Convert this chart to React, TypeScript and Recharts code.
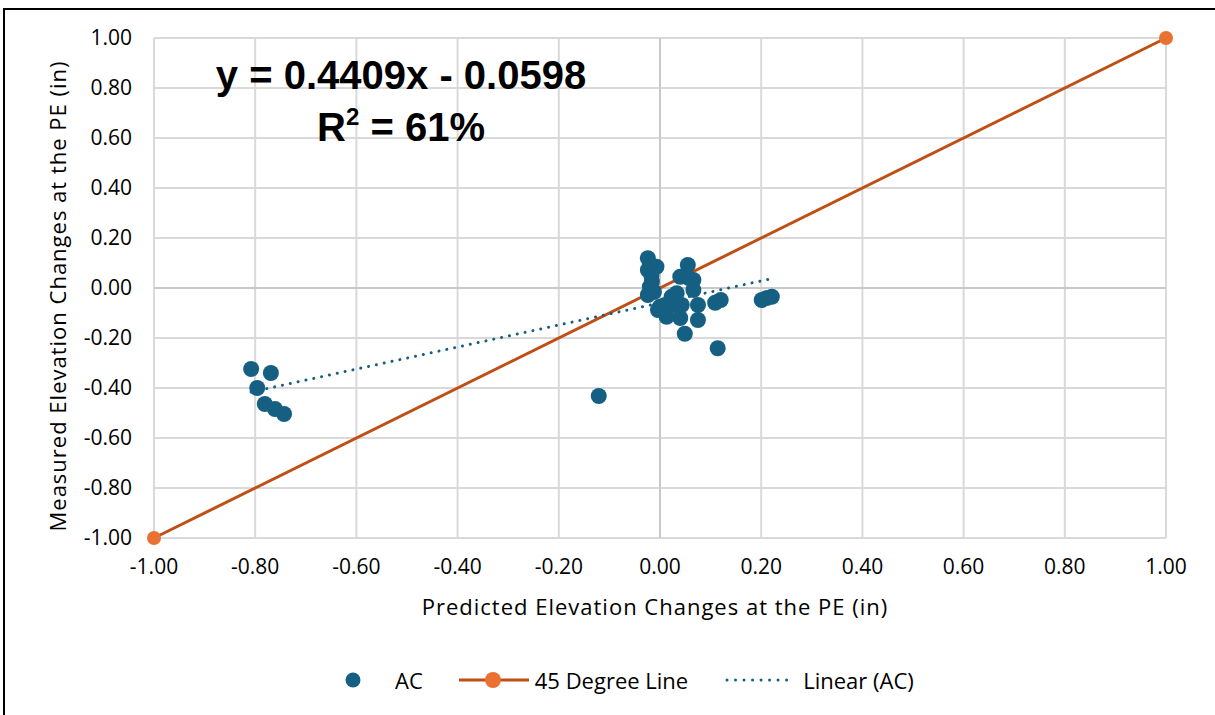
import React from 'react';
import {
  ScatterChart,
  Scatter,
  XAxis,
  YAxis,
  CartesianGrid,
  ReferenceLine,
} from 'recharts';

// AC measurements: predicted vs measured elevation change at the PE (in)
const acPredicted = [
  -0.808, -0.769, -0.796, -0.781, -0.761, -0.743, -0.121,
  -0.024, -0.024, -0.007, -0.017, -0.016, -0.020, -0.024, -0.012,
  0.055, 0.040, 0.057, 0.066, 0.066, 0.033, 0.023, 0.010, 0.026, 0.043,
  0.075, 0.000, 0.013, -0.004, 0.040, 0.075, 0.049, 0.109, 0.120, 0.114,
  0.201, 0.211, 0.221,
];
const acMeasured = [
  -0.324, -0.340, -0.400, -0.464, -0.484, -0.504, -0.432,
  0.119, 0.072, 0.085, 0.050, 0.025, 0.005, -0.028, -0.016,
  0.092, 0.045, 0.040, 0.032, -0.008, -0.021, -0.035, -0.068, -0.068, -0.068,
  -0.068, -0.075, -0.115, -0.088, -0.120, -0.128, -0.183, -0.059, -0.048, -0.241,
  -0.048, -0.040, -0.035,
];

// 45 degree reference line end points
const lineX = [-1, 1];
const lineY = [-1, 1];

// Linear (AC) trendline as reported by the chart
const trendSlope = 0.4409;
const trendIntercept = -0.0598;
const trendR2 = '61%';

const axisTicks = [-1, -0.8, -0.6, -0.4, -0.2, 0, 0.2, 0.4, 0.6, 0.8, 1];

const acData = acPredicted.map((x, i) => ({ x, y: acMeasured[i] }));
const lineData = lineX.map((x, i) => ({ x, y: lineY[i] }));
const trendEnds = [Math.min(...acPredicted), Math.max(...acPredicted)];
const trendData = trendEnds.map((x) => ({ x, y: trendSlope * x + trendIntercept }));

const COLORS = {
  ac: '#156082',
  line: '#C04F15',
  lineMarker: '#E97132',
  grid: '#D9D9D9',
  text: '#000000',
};

const FONT = '"Open Sans", "Liberation Sans", sans-serif';

const fmt = (v: number) => v.toFixed(2);

export default function App() {
  return (
    <div style={{ position: 'relative', width: 1215, height: 715, background: '#fff', fontFamily: FONT }}>
      <style>{`body{margin:0}`}</style>
      {/* chart frame (left and top edge visible) */}
      <div
        style={{
          position: 'absolute',
          left: 3,
          top: 8,
          width: 1212,
          height: 707,
          borderLeft: '2.5px solid #000',
          borderTop: '2.5px solid #000',
          boxSizing: 'border-box',
        }}
      />

      <div style={{ position: 'absolute', left: 0, top: 0 }}>
        <ScatterChart width={1215} height={715} margin={{ top: 38, right: 49, left: 0, bottom: 127 }}>
          <CartesianGrid stroke={COLORS.grid} strokeWidth={2} />
          <XAxis
            type="number"
            dataKey="x"
            domain={[-1, 1]}
            ticks={axisTicks}
            tickFormatter={fmt}
            axisLine={false}
            tickLine={false}
            tickSize={0}
            tickMargin={21}
            height={50}
            tick={{ fontSize: 21, fill: COLORS.text, fontFamily: FONT }}
            interval={0}
          />
          <YAxis
            type="number"
            dataKey="y"
            domain={[-1, 1]}
            ticks={axisTicks}
            tickFormatter={fmt}
            axisLine={false}
            tickLine={false}
            tickSize={0}
            tickMargin={22}
            width={154}
            tick={{ fontSize: 21, fill: COLORS.text, fontFamily: FONT }}
            interval={0}
          />
          <ReferenceLine x={0} stroke="#C9C9C9" strokeWidth={2} />
          <ReferenceLine y={0} stroke="#C9C9C9" strokeWidth={2} />
          <Scatter
            name="45 Degree Line"
            data={lineData}
            line={{ stroke: COLORS.line, strokeWidth: 3 }}
            shape={(p: any) => <circle cx={p.cx} cy={p.cy} r={7} fill={COLORS.lineMarker} />}
            isAnimationActive={false}
          />
          <Scatter
            name="Linear (AC)"
            data={trendData}
            line={{ stroke: COLORS.ac, strokeWidth: 3, strokeDasharray: '0.01 8', strokeLinecap: 'round' }}
            shape={() => <g />}
            isAnimationActive={false}
          />
          <Scatter
            name="AC"
            data={acData}
            shape={(p: any) => <circle cx={p.cx} cy={p.cy} r={8} fill={COLORS.ac} />}
            isAnimationActive={false}
          />
        </ScatterChart>
      </div>

      {/* trendline equation */}
      <div
        style={{
          position: 'absolute',
          left: 151,
          top: 49,
          width: 500,
          textAlign: 'center',
          fontFamily: '"Liberation Sans", Arial, sans-serif',
          fontWeight: 700,
          fontSize: 40,
          lineHeight: '52px',
          color: '#000',
        }}
      >
        <div>y = {trendSlope.toFixed(4)}x - {Math.abs(trendIntercept).toFixed(4)}</div>
        <div>
          R<sup style={{ fontSize: 24, lineHeight: 0, position: 'relative', top: -2 }}>2</sup> = {trendR2}
        </div>
      </div>

      {/* axis titles */}
      <div
        style={{
          position: 'absolute',
          left: 155,
          width: 1000,
          top: 591,
          textAlign: 'center',
          fontSize: 22,
          letterSpacing: 1,
          color: '#000',
        }}
      >
        Predicted Elevation Changes at the PE (in)
      </div>
      <div
        style={{
          position: 'absolute',
          left: 57,
          top: 296,
          width: 600,
          marginLeft: -300,
          marginTop: -15,
          textAlign: 'center',
          fontSize: 22,
          letterSpacing: 1,
          lineHeight: '30px',
          color: '#000',
          transform: 'rotate(-90deg)',
        }}
      >
        Measured Elevation Changes at the PE (in)
      </div>

      {/* legend */}
      <div
        style={{
          position: 'absolute',
          left: 345,
          top: 664,
          height: 32,
          display: 'flex',
          alignItems: 'center',
          fontSize: 22,
          color: '#000',
        }}
      >
        <svg width={16} height={16}>
          <circle cx={8} cy={8} r={7.5} fill={COLORS.ac} />
        </svg>
        <span style={{ marginLeft: 34 }}>AC</span>
        <svg width={70} height={18} style={{ marginLeft: 36 }}>
          <line x1={0} y1={9} x2={70} y2={9} stroke={COLORS.line} strokeWidth={3} />
          <circle cx={34} cy={9} r={8} fill={COLORS.lineMarker} />
        </svg>
        <span style={{ marginLeft: 6 }}>45 Degree Line</span>
        <svg width={70} height={18} style={{ marginLeft: 37 }}>
          <line
            x1={2}
            y1={9}
            x2={70}
            y2={9}
            stroke={COLORS.ac}
            strokeWidth={3}
            strokeDasharray="0.01 8.5"
            strokeLinecap="round"
          />
        </svg>
        <span style={{ marginLeft: 8 }}>Linear (AC)</span>
      </div>
    </div>
  );
}
